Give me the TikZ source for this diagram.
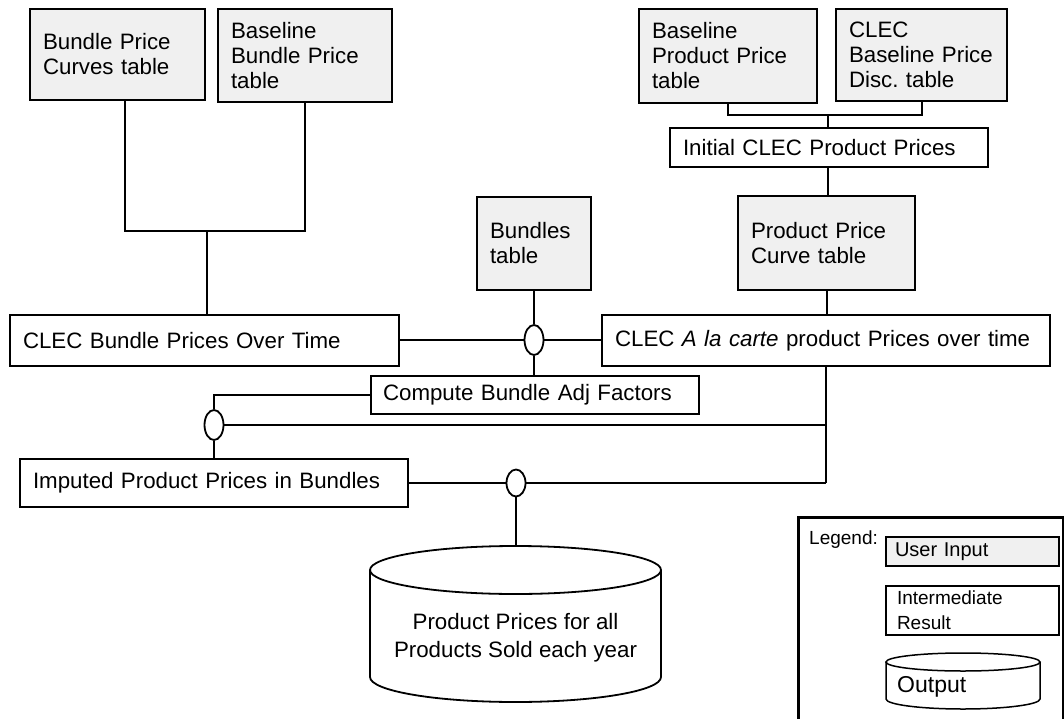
\documentclass[tikz,border=0pt]{standalone}
\usepackage{fontspec}
\setmainfont{Liberation Sans}
\usetikzlibrary{shapes.geometric}
\frenchspacing

\tikzset{
  base/.style={font=\fontsize{22.3pt}{25pt}\selectfont, align=left,
    inner xsep=13pt, inner ysep=0pt, anchor=center},
  userin/.style={base, draw, line width=2.4pt, fill=black!6},
  interm/.style={base, draw, line width=1.8pt},
  junction/.style={ellipse, draw, line width=1.8pt, inner sep=0pt,
    minimum width=19pt, fill=white},
  wire/.style={line width=2pt},
  legtext/.style={font=\fontsize{19pt}{25pt}\selectfont, align=left},
}

\begin{document}
\begin{tikzpicture}[x=1pt, y=-1pt]
\clip (0,0) rectangle (1064,719);
\fill[white] (0,0) rectangle (1064,719);

% user input tables
\node[userin, text width=149pt, minimum height=91pt] (bpc) at (117.5,54.5) {Bundle Price\\Curves table};
\node[userin, text width=148pt, minimum height=93pt] (bbp) at (305,55.5) {Baseline\\Bundle Price\\table};
\node[userin, text width=152pt, minimum height=94pt] (bpp) at (728,56) {Baseline\\Product Price\\table};
\node[userin, text width=145pt, minimum height=92pt] (cbd) at (921.5,55) {CLEC\\Baseline Price\\Disc. table};
\node[userin, text width=88pt, minimum height=93pt] (bun) at (534,243.5) {Bundles\\table};
\node[userin, text width=151pt, minimum height=94pt] (ppc) at (826.5,243) {Product Price\\Curve table};

% intermediate results
\node[interm, text width=292pt, minimum height=39pt] (init) at (829,147.5) {Initial CLEC Product Prices};
\node[interm, text width=363pt, minimum height=51pt] (cbpt) at (204.5,340.5) {CLEC Bundle Prices Over Time};
\node[interm, text width=422pt, minimum height=51pt] (alc) at (826,340.5) {CLEC \textit{A la carte} product Prices over time};
\node[interm, text width=304pt, minimum height=38pt, inner xsep=12pt] (cbaf) at (535,395) {Compute Bundle Adj Factors};
\node[interm, text width=362pt, minimum height=48pt] (ipp) at (214,483) {Imputed Product Prices in Bundles};

% junctions
\node[junction, minimum height=30pt] (j1) at (534,340) {};
\node[junction, minimum height=30pt] (j2) at (214,425) {};
\node[junction, minimum height=27pt] (j3) at (516,483) {};

% output store
\draw[line width=1.8pt] (515.5,570) ellipse [x radius=145.5pt, y radius=24pt];
\draw[line width=1.8pt] (370,570) -- (370,677) arc[start angle=180, end angle=360, x radius=145.5pt, y radius=25pt] -- (661,570);
\node[font=\fontsize{22.3pt}{28pt}\selectfont, align=center] (outp) at (515.5,638) {Product Prices for all\\Products Sold each year};
\coordinate (outtop) at (516,546);

% connector junction points
\coordinate (jA) at (207,231);
\coordinate (jB) at (827.5,115);
\coordinate (jD) at (826,483);

% connectors
\draw[wire] ([xshift=7.5pt]bpc.south) |- (jA) -| (bbp.south);
\draw[wire] (jA) -- (jA |- cbpt.north);
\draw[wire] (bpp.south) |- (jB) -| (cbd.south);
\draw[wire] (jB) -- (jB |- init.north);
\draw[wire] (jB |- init.south) -- (jB |- ppc.north);
\draw[wire] (ppc.south) -- (ppc.south |- alc.north);
\draw[wire] (bun.south) -- (j1.north);
\draw[wire] (j1.south) -- (j1.south |- cbaf.north);
\draw[wire] (cbpt.east |- j1.west) -- (j1.west);
\draw[wire] (j1.east) -- (j1.east -| alc.west);
\draw[wire] (cbaf.west) -| (j2.north);
\draw[wire] (j2.south) -- (ipp.north);
\draw[wire] (j2.east) -- (j2.east -| jD);
\draw[wire] (alc.south) -- (jD);
\draw[wire] (ipp.east |- j3.west) -- (j3.west);
\draw[wire] (j3.east) -- (jD);
\draw[wire] (j3.south) -- (outtop);

% legend
\node[draw, line width=3pt, minimum width=265pt, minimum height=230pt, anchor=north west, inner sep=0pt] (legend) at (797,516) {};
\node[legtext, anchor=west, inner sep=0pt] (legl) at (809,540) {Legend:};
\node[userin, font=\fontsize{20pt}{24pt}\selectfont, inner xsep=9pt, text width=155pt, minimum height=29pt, line width=1.8pt] (legu) at (972.5,551.5) {User Input};
\node[interm, legtext, inner xsep=11pt, inner ysep=0pt, text width=151pt, minimum height=49pt, line width=1.5pt] (legi) at (972.5,610.5) {Intermediate\\Result};
\draw[line width=1.5pt] (963,662) ellipse [x radius=77pt, y radius=9pt];
\draw[line width=1.5pt] (886,662) -- (886,699) arc[start angle=180, end angle=360, x radius=77pt, y radius=10pt] -- (1040,662);
\node[font=\fontsize{23pt}{26pt}\selectfont, anchor=west, inner sep=0pt] (lego) at (897,687) {Output};
\end{tikzpicture}
\end{document}
